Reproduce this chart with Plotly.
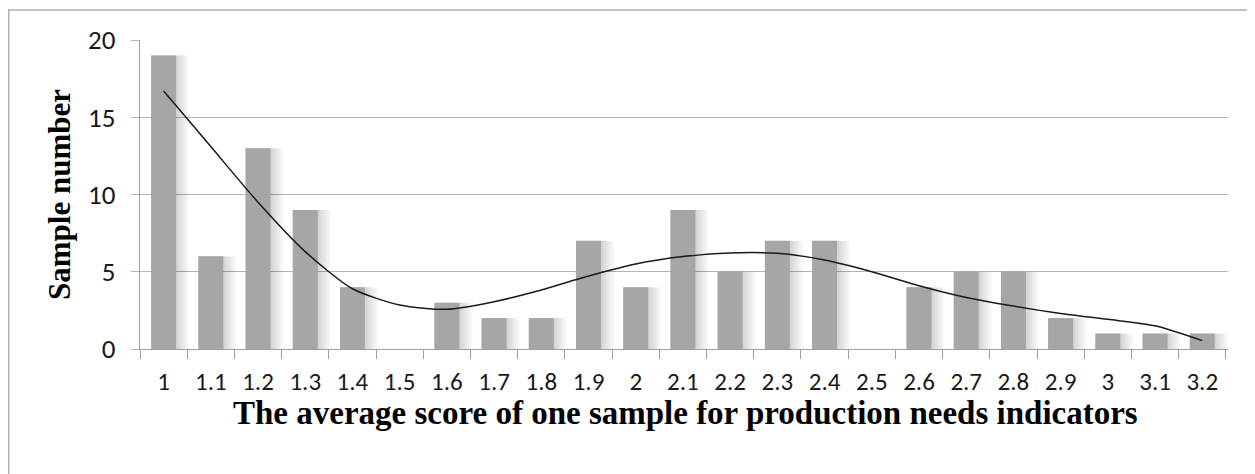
import plotly.graph_objects as go

categories = ["1", "1.1", "1.2", "1.3", "1.4", "1.5", "1.6", "1.7", "1.8", "1.9", "2",
              "2.1", "2.2", "2.3", "2.4", "2.5", "2.6", "2.7", "2.8", "2.9", "3", "3.1", "3.2"]
sample_counts = [19, 6, 13, 9, 4, 0, 3, 2, 2, 7, 4, 9, 5, 7, 7, 0, 4, 5, 5, 2, 1, 1, 1]
trend_values = [16.7, 13.1, 9.5, 6.3, 3.9, 2.85, 2.57, 3.06, 3.82, 4.72, 5.5,
                5.98, 6.22, 6.19, 5.76, 5.0, 4.1, 3.34, 2.78, 2.3, 1.92, 1.5, 0.54]
y_ticks = [0, 5, 10, 15, 20]

# the page adds an 8px body margin, so the figure is sized/offset accordingly
W, H = 1247, 466
ML, MR, MT, MB = 132, 27, 32, 125
PW, PH = W - ML - MR, H - MT - MB

bw = 0.53
fig = go.Figure()
# soft shadow gradient to the right of each bar
for k in range(7, 0, -1):
    fig.add_trace(go.Bar(x=categories, y=sample_counts, width=bw + k * 0.04,
                         offset=-bw / 2,
                         marker=dict(color="rgba(0,0,0,0.022)", line=dict(width=0)),
                         hoverinfo="skip", showlegend=False))
fig.add_trace(go.Bar(x=categories, y=sample_counts, width=bw, offset=-bw / 2,
                     marker=dict(color="#a6a6a6", line=dict(width=0)),
                     showlegend=False, name="Sample number"))
fig.add_trace(go.Scatter(x=categories, y=trend_values, mode="lines",
                         line=dict(color="#1a1a1a", width=1.5, shape="spline", smoothing=0.7),
                         showlegend=False, name="Trend"))

tick_font = "Carlito, Liberation Sans"
fig.update_layout(
    width=W, height=H,
    margin=dict(l=ML, r=MR, t=MT, b=MB),
    paper_bgcolor="white", plot_bgcolor="white",
    barmode="overlay",
    xaxis=dict(type="category", tickson="boundaries", ticks="outside", ticklen=9,
               tickcolor="#a0a0a0", tickwidth=1.3, showline=True, linecolor="#a0a0a0",
               linewidth=1.3, showgrid=False, ticklabelstandoff=10,
               tickfont=dict(family=tick_font, size=25, color="#1a1a1a")),
    yaxis=dict(range=[0, 20], tickvals=y_ticks, ticks="outside", ticklen=8,
               tickcolor="#b4b4b4", tickwidth=1.3, showline=True, linecolor="#a0a0a0",
               linewidth=1.3, showgrid=True, gridcolor="#b4b4b4", gridwidth=1.3,
               zeroline=False, ticklabelstandoff=10,
               tickfont=dict(family=tick_font, size=27, color="#1a1a1a")),
    font=dict(family="Liberation Sans"),
)

fig.add_annotation(text="<b>The average score of one sample for production needs indicators</b>",
                   xref="paper", yref="paper", x=0.501, y=-64 / PH,
                   xanchor="center", yanchor="middle", showarrow=False,
                   font=dict(family="Liberation Serif, Times New Roman", size=33, color="#000000"))
fig.add_annotation(text="<b>Sample number</b>", textangle=-90,
                   xref="paper", yref="paper", x=-80 / PW, y=154 / PH,
                   xanchor="center", yanchor="middle", showarrow=False,
                   font=dict(family="Liberation Serif, Times New Roman", size=31, color="#000000"))

# outer chart border (left and top edges visible)
fig.add_shape(type="rect", xref="paper", yref="paper",
              x0=(0.75 - ML) / PW, x1=(W + 20 - ML) / PW,
              y0=(H - MB - (H + 20)) / PH, y1=(H - MB - 2) / PH,
              line=dict(color="#b0b0b0", width=1.5), fillcolor="rgba(0,0,0,0)", layer="below")

fig.write_html("out.html")
